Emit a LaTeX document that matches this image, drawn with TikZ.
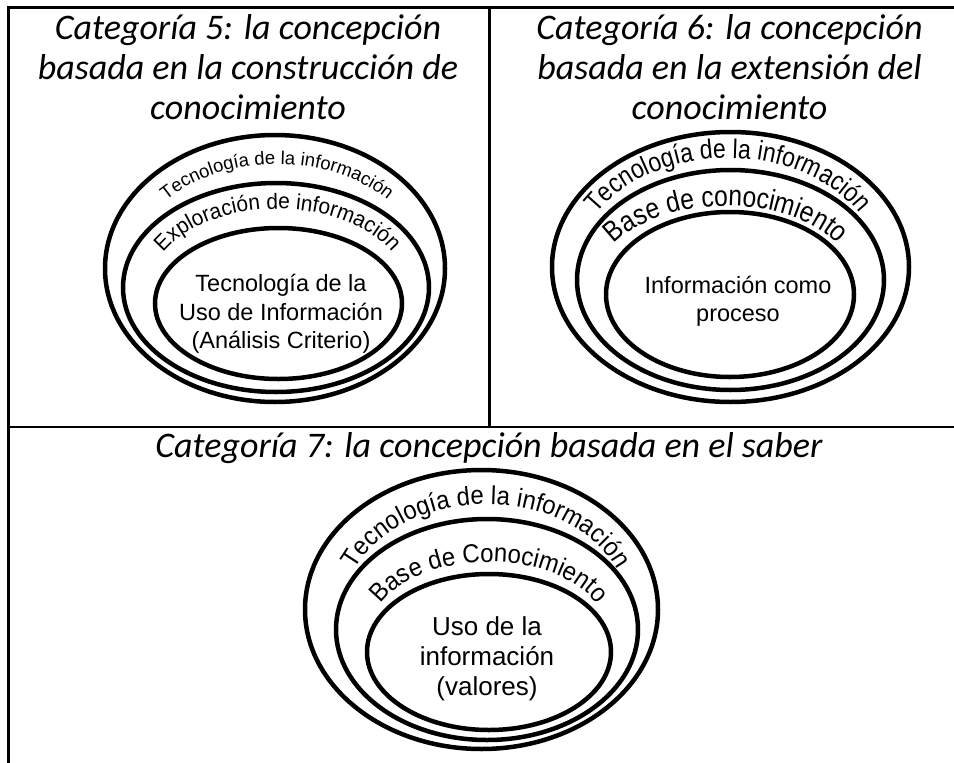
\documentclass[tikz,border=0pt]{standalone}
\usepackage{fontspec}
\setmainfont{Liberation Sans}
\newfontfamily\titlefont{Carlito}
\newfontfamily\arcnarrowA[FakeStretch=0.85]{Liberation Sans}
\newfontfamily\arcnarrowB[FakeStretch=0.92]{Liberation Sans}
\newfontfamily\arcnarrowC[FakeStretch=0.95]{Liberation Sans}
\usetikzlibrary{decorations.text}
\newcommand\szA{\fontsize{18.5}{18.5}\selectfont}
\newcommand\szB{\arcnarrowC\fontsize{22}{22}\selectfont}
\newcommand\szC{\arcnarrowA\fontsize{27}{27}\selectfont}
\newcommand\szD{\arcnarrowA\fontsize{29}{29}\selectfont}
\newcommand\szE{\arcnarrowB\fontsize{26}{26}\selectfont}
\newcommand\szF{\arcnarrowB\fontsize{26}{26}\selectfont}
\tikzset{
  frame/.style={line width=2.8pt, black, line cap=rect},
  ring/.style={line width=4.5pt, black},
  ttl/.style={font=\titlefont\itshape\fontsize{36}{40}\selectfont, anchor=base, inner sep=0pt},
  lbl/.style={font=\fontsize{23.5}{28}\selectfont, anchor=base, inner sep=0pt},
  lblbig/.style={font=\fontsize{26}{30}\selectfont, anchor=base, inner sep=0pt},
}
\begin{document}
\begin{tikzpicture}[x=1pt,y=-1pt]
\useasboundingbox (0,0) rectangle (954,763);
\fill[white] (0,0) rectangle (954,763);
% table frame
\draw[frame] (8.5,763) -- (8.5,7.5) -- (954,7.5);
\draw[frame] (8.5,427) -- (954,427);
\draw[frame] (489.5,7.5) -- (489.5,427);

% titles
\node[ttl] (t1a) at (248,39) {Categoría 5: la concepción};
\node[ttl] (t1b) at (248,79) {basada en la construcción de};
\node[ttl] (t1c) at (248,119) {conocimiento};
\node[ttl] (t2a) at (729.5,39) {Categoría 6: la concepción};
\node[ttl] (t2b) at (729.5,79) {basada en la extensión del};
\node[ttl] (t2c) at (729.5,119) {conocimiento};
\node[ttl] (t3a) at (489,457) {Categoría 7: la concepción basada en el saber};

% panel 1 ellipses
\draw[ring] (275,268.5) ellipse [x radius=170, y radius=133.5];
\draw[ring] (276,287.5) ellipse [x radius=153, y radius=104.5];
\draw[ring] (278.5,303.5) ellipse [x radius=123.5, y radius=75.5];
\path[decorate, decoration={text along path, text align=center, text={|\szA|Tecnología de la información}}]
  (130,270) arc[start angle=180, end angle=360, x radius=147, y radius=106];
\path[decorate, decoration={text along path, text align=center, text={|\szB|Exploración de información}}]
  (149.5,288) arc[start angle=180, end angle=360, x radius=128, y radius=79];
\node[lbl] (i1a) at (281,291.5) {Tecnología de la};
\node[lbl] (i1b) at (281,320) {Uso de Información};
\node[lbl] (i1c) at (281,348.5) {(Análisis Criterio)};

% panel 2 ellipses
\draw[ring] (730.5,267) ellipse [x radius=178.5, y radius=135];
\draw[ring] (730.5,280) ellipse [x radius=153.5, y radius=110];
\draw[ring] (730,294.5) ellipse [x radius=124, y radius=82.5];
\path[decorate, decoration={text along path, text align=center, text={|\szC|Tecnología de la información}}]
  (577,268) arc[start angle=180, end angle=360, x radius=151, y radius=110];
\path[decorate, decoration={text along path, text align=center, text={|\szD|Base de conocimiento}}]
  (598,280) arc[start angle=180, end angle=360, x radius=128, y radius=74];
\node[lbl] (i2a) at (738,293) {Información como};
\node[lbl] (i2b) at (738,321) {proceso};

% panel 3 ellipses
\draw[ring] (481.5,609.5) ellipse [x radius=176.5, y radius=139.5];
\draw[ring] (487,629.5) ellipse [x radius=151, y radius=110.5];
\draw[ring] (489,652) ellipse [x radius=122, y radius=78];
\path[decorate, decoration={text along path, text align=center, text={|\szE|Tecnología de la información}}]
  (344,610) arc[start angle=180, end angle=360, x radius=142, y radius=106];
\path[decorate, decoration={text along path, text align=center, text={|\szF|Base de Conocimiento}}]
  (372,630) arc[start angle=180, end angle=360, x radius=117, y radius=68];
\node[lblbig] (i3a) at (487,635) {Uso de la};
\node[lblbig] (i3b) at (487,665) {información};
\node[lblbig] (i3c) at (487,695) {(valores)};
\end{tikzpicture}
\end{document}
